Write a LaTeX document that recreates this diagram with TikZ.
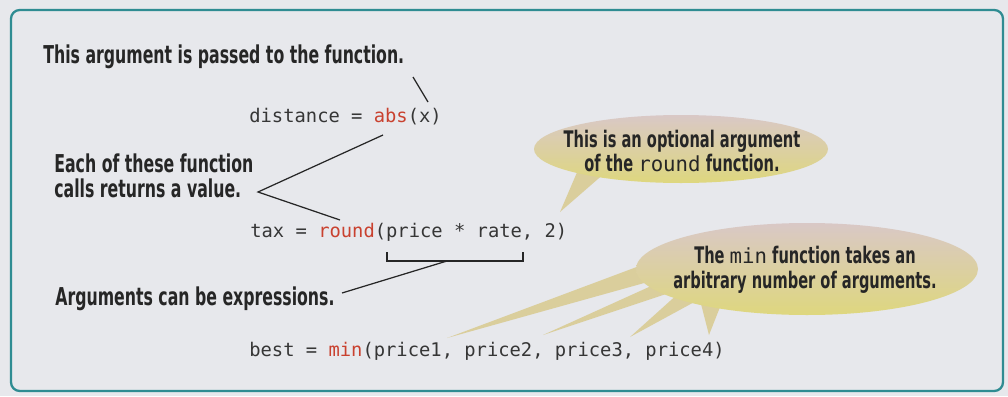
\documentclass[tikz,border=0pt]{standalone}
\usepackage{fontspec}
\setmonofont{DejaVu Sans Mono}
\newfontfamily\handfont{DejaVu Sans}[FakeStretch=0.64]
\definecolor{pagegray}{HTML}{E7E8EC}
\definecolor{frameteal}{HTML}{2F8C92}
\definecolor{inkgray}{HTML}{262626}
\definecolor{codegray}{HTML}{363636}
\definecolor{keyred}{HTML}{C9412F}
\definecolor{balloontop}{HTML}{D9C8C6}
\definecolor{balloonbot}{HTML}{DED77E}
\definecolor{balloontail}{HTML}{DACE9C}
\usetikzlibrary{positioning,calc}
\newcommand{\kw}[1]{\textcolor{keyred}{#1}}
\newcommand{\inlinecode}[1]{{\ttfamily\mdseries\fontsize{11.8}{14}\selectfont #1}}

\begin{document}
\begin{tikzpicture}[x=0.02cm,y=-0.02cm,
  note/.style={font=\handfont\bfseries\fontsize{14}{14.2}\selectfont,text=inkgray,
    anchor=west,align=left,inner sep=0pt},
  bubbletext/.style={font=\handfont\bfseries\fontsize{13}{14}\selectfont,text=inkgray,
    align=center,inner sep=0pt},
  code/.style={font=\ttfamily\fontsize{10.7}{13}\selectfont,text=codegray,
    anchor=west,inner sep=0pt},
  pointer/.style={inkgray,line width=0.7pt}]
  \useasboundingbox (0,0) rectangle (1008,396);
  \fill[pagegray] (0,0) rectangle (1008,396);
  \draw[frameteal,line width=1.3pt,rounded corners=5pt] (11,10) rectangle (1003,391);

  % code lines
  \node[code] (dist) at (249,117) {distance = \kw{abs}(x)};
  \node[code] (tax) at (250,232) {tax = \kw{round}(price * rate, 2)};
  \node[code] (best) at (249,351) {best = \kw{min}(price1, price2, price3, price4)};

  % notes on the left
  \node[note] (passnote) at (43,57) {This argument is passed to the function.};
  \node[note] (callnote) at (54,176) {Each of these function\\calls returns a value.};
  \node[note] (exprnote) at (55,299) {Arguments can be expressions.};

  \coordinate (passfoot) at (413,77);
  \coordinate (absarg) at (428,102);
  \coordinate (calls) at (258,192);
  \coordinate (abscall) at (383,135);
  \coordinate (roundcall) at (340,220);
  \coordinate (brL) at (387,252);
  \coordinate (brR) at (523,252);
  \coordinate (brM) at (447,261);
  \coordinate (exprend) at (342,293);

  \draw[pointer] (passfoot) -- (absarg);
  \draw[pointer] (abscall) -- (calls) -- (roundcall);
  \draw[pointer] (brL) -- ++(0,9) -| (brR);
  \draw[pointer] (exprend) -- (brM);

  % balloon for the optional argument
  \fill[balloontail] (578,170) -- (560,212) -- (606,172) -- cycle;
  \shade[top color=balloontop,bottom color=balloonbot] (681,149) ellipse [x radius=147,y radius=34];
  \node[bubbletext] (optnote) at (682,151)
    {This is an optional argument\\of the \inlinecode{round} function.};

  % balloon for min
  \fill[balloontail] (650,262) -- (447,338) -- (655,280) -- cycle;
  \fill[balloontail] (660,282) -- (543,335) -- (672,292) -- cycle;
  \fill[balloontail] (680,292) -- (630,337) -- (698,300) -- cycle;
  \fill[balloontail] (700,300) -- (709,335) -- (722,302) -- cycle;
  \shade[top color=balloontop,bottom color=balloonbot] (807,269) ellipse [x radius=171,y radius=46];
  \node[bubbletext] (minnote) at (805,270)
    {The \inlinecode{min} function takes an\\arbitrary number of arguments.};
\end{tikzpicture}
\end{document}
